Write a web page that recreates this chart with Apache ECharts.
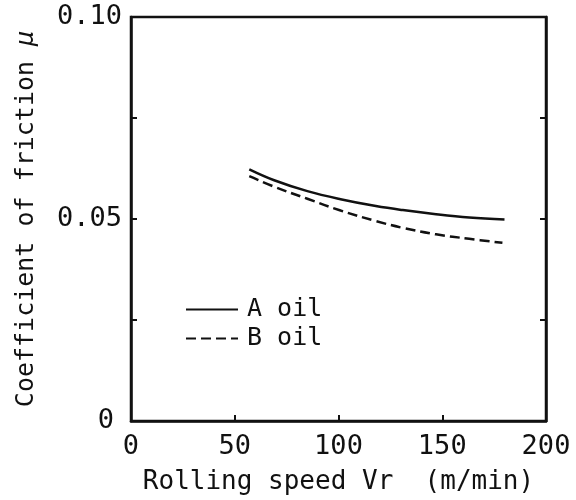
<!DOCTYPE html>
<html>
<head>
<meta charset="utf-8">
<script src="https://cdn.jsdelivr.net/npm/echarts@6/dist/echarts.min.js"></script>
<style>html,body{margin:0;padding:0;background:#fff;}#c{width:576px;height:500px;}</style>
</head>
<body>
<div id="c"></div>
<script>
var speedA = [57, 69, 85, 101, 118, 131, 147, 163, 180];
var frictionA = [0.0623, 0.0596, 0.0569, 0.0549, 0.0532, 0.0522, 0.0512, 0.0504, 0.0499];
var speedB = [57, 69, 85, 101, 118, 131, 147, 163, 179];
var frictionB = [0.0606, 0.0580, 0.0550, 0.0521, 0.0495, 0.0478, 0.0462, 0.0451, 0.0441];
var seriesNames = ['A oil', 'B oil'];
var xTitle = 'Rolling speed Vr  (m/min)';
var yTitle = 'Coefficient of friction ';
var yTickLabels = {'0': '0', '0.05': '0.05', '0.1': '0.10'};

var FONT = 'DejaVu Sans Mono';
var INK = '#111';

function pairs(xs, ys) { return xs.map(function (x, i) { return [x, ys[i]]; }); }

var chart = echarts.init(document.getElementById('c'));
chart.setOption({
  backgroundColor: '#fff',
  animation: false,
  grid: { left: 131, right: 30, top: 17, bottom: 79, show: true, borderColor: INK, borderWidth: 2.5, containLabel: false },
  legend: {
    show: true,
    orient: 'vertical', left: 180, top: 292, itemWidth: 52, itemHeight: 14, itemGap: 4,
    data: seriesNames,
    itemStyle: { opacity: 0 },
    textStyle: { fontFamily: FONT, fontSize: 25, color: INK, padding: [0, 0, 0, 4] }
  },
  xAxis: [{
    type: 'value', min: 0, max: 200, interval: 50,
    axisLine: { show: true, lineStyle: { color: INK, width: 2.5 } },
    axisTick: { show: true, inside: true, length: 6, lineStyle: { color: INK, width: 2 } },
    splitLine: { show: false },
    axisLabel: { fontFamily: FONT, fontSize: 27, color: INK, margin: 12 },
    name: xTitle, nameLocation: 'middle', nameGap: 48,
    nameTextStyle: { fontFamily: FONT, fontSize: 26, color: INK }
  }],
  yAxis: [{
    type: 'value', min: 0, max: 0.1, interval: 0.025,
    axisLine: { show: true, lineStyle: { color: INK, width: 2.5 } },
    axisTick: { show: true, inside: true, length: 6, lineStyle: { color: INK, width: 2 } },
    splitLine: { show: false },
    axisLabel: {
      fontFamily: FONT, fontSize: 27, color: INK, margin: 9,
      formatter: function (v) {
        var k = String(Math.round(v * 1000) / 1000);
        if (k === '0') return '{z|0}';
        return yTickLabels[k] || '';
      },
      rich: { z: { fontFamily: FONT, fontSize: 27, color: INK, padding: [0, 8, 0, 0] } }
    },
    name: '{t|' + yTitle + '}{mu|μ}', nameLocation: 'middle', nameGap: 92,
    nameTextStyle: {
      rich: {
        t: { fontFamily: FONT, fontSize: 25, color: INK },
        mu: { fontFamily: FONT, fontSize: 25, color: INK, fontStyle: 'italic' }
      }
    }
  }, {
    type: 'value', min: 0, max: 0.1, interval: 0.025, position: 'right',
    axisLine: { show: true, lineStyle: { color: INK, width: 2.5 } },
    axisTick: { show: true, inside: true, length: 6, lineStyle: { color: INK, width: 2 } },
    splitLine: { show: false },
    axisLabel: { show: false }
  }],
  series: [{
    name: seriesNames[0], type: 'line', smooth: 0.4, symbol: 'none',
    data: pairs(speedA, frictionA),
    lineStyle: { color: INK, width: 2.5, type: 'solid' },
    itemStyle: { color: INK }
  }, {
    name: seriesNames[1], type: 'line', smooth: 0.4, symbol: 'none',
    data: pairs(speedB, frictionB),
    lineStyle: { color: INK, width: 2.5, type: [10, 5] },
    itemStyle: { color: INK }
  }]
});
</script>
</body>
</html>
